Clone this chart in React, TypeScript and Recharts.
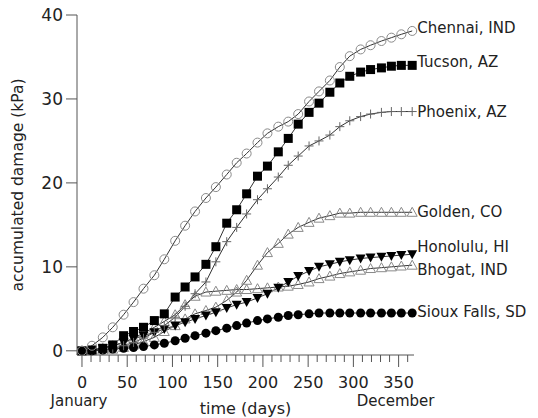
import { LineChart, Line, XAxis, YAxis } from 'recharts';

// day of year for each sample
const days = [0, 11, 23, 34, 46, 57, 68, 80, 91, 103, 114, 125, 137, 148, 160, 171, 182, 194, 205, 217, 228, 239, 251, 262, 274, 285, 296, 308, 319, 331, 342, 353, 365];

// accumulated damage (kPa) per site
const chennai = [0, 0.6, 1.6, 2.8, 4.3, 5.8, 7.4, 9.0, 10.9, 13.1, 14.9, 16.6, 18.2, 19.5, 21.0, 22.4, 23.5, 24.8, 25.9, 26.7, 27.3, 28.2, 29.7, 30.9, 32.2, 33.8, 35.1, 35.9, 36.4, 36.9, 37.3, 37.7, 38.1];
const tucson = [0, 0.1, 0.3, 0.7, 1.8, 2.3, 2.8, 3.6, 4.4, 6.4, 7.6, 8.8, 10.3, 12.4, 15.2, 16.8, 18.7, 20.8, 22.0, 23.7, 25.3, 27.0, 28.4, 29.5, 30.8, 31.9, 32.7, 33.2, 33.5, 33.7, 33.9, 34.0, 34.0];
const phoenix = [0, 0, 0.1, 0.3, 0.6, 1.0, 1.5, 2.2, 3.0, 4.0, 5.3, 6.8, 8.2, 10.6, 13.0, 14.7, 16.3, 18.0, 19.3, 20.7, 22.1, 23.2, 24.4, 25.0, 25.7, 26.7, 27.4, 27.9, 28.2, 28.4, 28.5, 28.5, 28.5];
const golden = [0, 0, 0.1, 0.2, 0.4, 0.7, 1.1, 1.6, 2.3, 3.0, 3.8, 4.4, 4.8, 5.2, 6.0, 7.0, 8.4, 10.2, 11.7, 12.8, 13.9, 14.7, 15.3, 15.8, 16.1, 16.4, 16.4, 16.5, 16.5, 16.5, 16.5, 16.5, 16.5];
const honolulu = [0, 0.1, 0.3, 0.6, 1.0, 1.4, 1.8, 2.2, 2.6, 3.0, 3.4, 3.8, 4.2, 4.6, 5.1, 5.5, 5.8, 6.3, 6.8, 7.5, 8.2, 8.9, 9.5, 10.0, 10.3, 10.6, 10.8, 11.0, 11.1, 11.2, 11.3, 11.4, 11.5];
const bhogat = [0, 0.1, 0.3, 0.6, 1.0, 1.5, 2.1, 2.8, 3.5, 4.3, 5.5, 6.5, 7.0, 7.1, 7.2, 7.3, 7.3, 7.4, 7.5, 7.6, 7.7, 7.9, 8.2, 8.6, 8.9, 9.2, 9.4, 9.6, 9.8, 9.9, 10.0, 10.1, 10.2];
const siouxFalls = [0, 0, 0.1, 0.2, 0.3, 0.4, 0.5, 0.7, 0.9, 1.2, 1.5, 1.8, 2.1, 2.4, 2.7, 3.0, 3.3, 3.6, 3.8, 4.0, 4.2, 4.3, 4.4, 4.5, 4.5, 4.5, 4.5, 4.5, 4.5, 4.5, 4.5, 4.5, 4.5];

const yTicks = [0, 10, 20, 30, 40];
const xTicks = [0, 10, 20, 30, 40, 50, 60, 70, 80, 90, 100, 110, 120, 130, 140, 150, 160, 170, 180, 190, 200, 210, 220, 230, 240, 250, 260, 270, 280, 290, 300, 310, 320, 330, 340, 350, 360];

const data = days.map((day, i) => ({
  day,
  chennai: chennai[i],
  tucson: tucson[i],
  phoenix: phoenix[i],
  golden: golden[i],
  honolulu: honolulu[i],
  bhogat: bhogat[i],
  siouxFalls: siouxFalls[i],
}));

const FONT = '"DejaVu Sans", Verdana, sans-serif';
const TEXT = '#222';
const AXIS = '#555';

type Shape = 'openCircle' | 'square' | 'plus' | 'openTri' | 'downTri' | 'dot';

const series: { key: string; name: string; shape: Shape; dy: number }[] = [
  { key: 'bhogat', name: 'Bhogat, IND', shape: 'openTri', dy: 5 },
  { key: 'golden', name: 'Golden, CO', shape: 'openTri', dy: 0 },
  { key: 'siouxFalls', name: 'Sioux Falls, SD', shape: 'dot', dy: -1 },
  { key: 'honolulu', name: 'Honolulu, HI', shape: 'downTri', dy: -7 },
  { key: 'phoenix', name: 'Phoenix, AZ', shape: 'plus', dy: 0 },
  { key: 'tucson', name: 'Tucson, AZ', shape: 'square', dy: -3 },
  { key: 'chennai', name: 'Chennai, IND', shape: 'openCircle', dy: -3 },
];

const marker = (shape: Shape) => (p: any) => {
  const { cx, cy, index } = p;
  if (cx == null || cy == null) return <g key={index} />;
  const s = 4.5;
  switch (shape) {
    case 'openCircle':
      return <circle key={index} cx={cx} cy={cy} r={s} fill="none" stroke="#8a8a8a" strokeWidth={1} />;
    case 'square':
      return <rect key={index} x={cx - s} y={cy - s} width={s * 2} height={s * 2} fill="#000" />;
    case 'plus':
      return (
        <path key={index} d={`M${cx - s},${cy}H${cx + s}M${cx},${cy - s}V${cy + s}`} stroke="#666" strokeWidth={1} />
      );
    case 'openTri':
      return (
        <path key={index} d={`M${cx},${cy - s - 0.5}L${cx + s + 0.5},${cy + s - 0.5}L${cx - s - 0.5},${cy + s - 0.5}Z`} fill="none" stroke="#8a8a8a" strokeWidth={1} />
      );
    case 'downTri':
      return (
        <path key={index} d={`M${cx},${cy + s + 0.5}L${cx + s + 0.5},${cy - s + 0.5}L${cx - s - 0.5},${cy - s + 0.5}Z`} fill="#000" />
      );
    default:
      return <circle key={index} cx={cx} cy={cy} r={s} fill="#000" />;
  }
};

const endLabel = (name: string, dy: number) => (p: any) => {
  if (p.index !== days.length - 1) return null;
  return (
    <text key="end" x={p.x + 5} y={p.y + dy} dominantBaseline="central" fontSize={15} fontFamily={FONT} fill={TEXT}>
      {name}
    </text>
  );
};

function DayTick(props: any) {
  const { x, y, payload } = props;
  const v = payload.value;
  const major = v % 50 === 0;
  return (
    <g>
      <line x1={x} x2={x} y1={y} y2={y + (major ? 12 : 7)} stroke={AXIS} strokeWidth={1} />
      {major && (
        <text x={x} y={y + 27} textAnchor="middle" dominantBaseline="central" fontSize={16} fontFamily={FONT} fill={TEXT}>
          {v}
        </text>
      )}
      {v === 0 && (
        <text x={x - 3} y={y + 46} textAnchor="middle" dominantBaseline="central" fontSize={15} fontFamily={FONT} fill={TEXT}>
          January
        </text>
      )}
      {v === 350 && (
        <text x={x - 3} y={y + 46} textAnchor="middle" dominantBaseline="central" fontSize={15} fontFamily={FONT} fill={TEXT}>
          December
        </text>
      )}
    </g>
  );
}

export default function App() {
  return (
    <div style={{ position: 'absolute', left: 0, top: 0, width: 538, height: 418, background: '#fff' }}>
      <LineChart
        width={538}
        height={418}
        data={data}
        margin={{ top: 15, right: 124, bottom: 0, left: 0 }}
        style={{ fontFamily: FONT }}
      >
        <XAxis
          dataKey="day"
          type="number"
          domain={[-5.5, 367]}
          ticks={xTicks}
          interval={0}
          height={63}
          tickSize={0}
          tickMargin={0}
          tickLine={false}
          stroke={AXIS}
          tick={<DayTick />}
          label={{ value: 'time (days)', position: 'insideBottom', offset: 4, fontSize: 16, fill: TEXT, fontFamily: FONT }}
        />
        <YAxis
          type="number"
          domain={[-0.5, 40]}
          ticks={yTicks}
          interval={0}
          width={77}
          tickSize={11}
          tickMargin={3}
          stroke={AXIS}
          tick={{ fontSize: 17, fill: TEXT, fontFamily: FONT }}
          label={{ value: 'accumulated damage (kPa)', angle: -90, position: 'insideLeft', offset: 17, fontSize: 15.5, fill: TEXT, fontFamily: FONT, style: { textAnchor: 'middle' } }}
        />
        {series.map((s) => (
          <Line
            key={s.key}
            dataKey={s.key}
            name={s.name}
            type="linear"
            stroke="#333"
            strokeWidth={1}
            dot={marker(s.shape)}
            activeDot={false}
            label={endLabel(s.name, s.dy)}
            isAnimationActive={false}
          />
        ))}
      </LineChart>
    </div>
  );
}
